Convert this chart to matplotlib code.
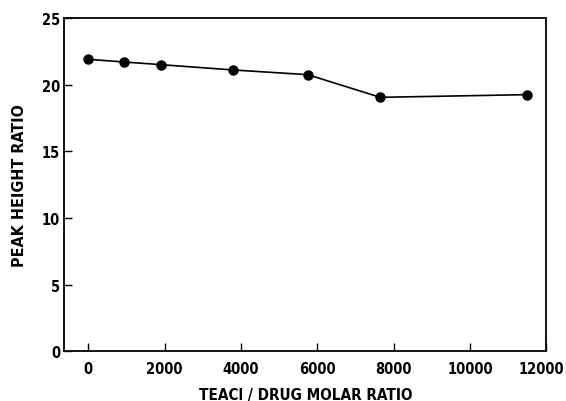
import matplotlib
matplotlib.use("Agg")
import matplotlib.pyplot as plt
from matplotlib.transforms import ScaledTranslation

# TEACl / drug molar ratio vs peak height ratio
molar_ratio = [0, 940, 1900, 3800, 5750, 7650, 11500]
peak_height_ratio = [21.9, 21.7, 21.5, 21.1, 20.75, 19.05, 19.25]
x_ticks = [0, 2000, 4000, 6000, 8000, 10000, 12000]
y_ticks = [0, 5, 10, 15, 20, 25]

plt.rcParams['font.family'] = ['DejaVu Sans']
plt.rcParams['font.stretch'] = 'condensed'
plt.rcParams['font.weight'] = 'bold'

fig = plt.figure(figsize=(5.66, 4.02), dpi=100)
ax = fig.add_axes([64.3 / 566, 1 - 352.3 / 402, (546.3 - 64.3) / 566, (352.3 - 19) / 402])

ax.plot(molar_ratio, peak_height_ratio, color='black', linewidth=1.2,
        marker='o', markersize=6.5)

ax.set_xlim(-630, 12000)
ax.set_ylim(0, 25)
ax.set_xticks(x_ticks)
ax.set_yticks(y_ticks)
ax.tick_params(direction='in', length=6, width=1, labelsize=10.5)
ax.tick_params(axis='x', pad=7)
ax.tick_params(axis='y', pad=3)
for s in ax.spines.values():
    s.set_linewidth(1.3)

# nudge the last x label so it stays inside the figure
last = ax.xaxis.get_major_ticks()[-1].label1
last.set_transform(last.get_transform() + ScaledTranslation(-5 / 100, 0, fig.dpi_scale_trans))

ax.set_xlabel('TEACl / DRUG MOLAR RATIO', fontsize=11, fontweight='bold', labelpad=8)
ax.set_ylabel('PEAK HEIGHT RATIO', fontsize=11.5, fontweight='bold', labelpad=11)

fig.savefig('out.png', dpi=100)
